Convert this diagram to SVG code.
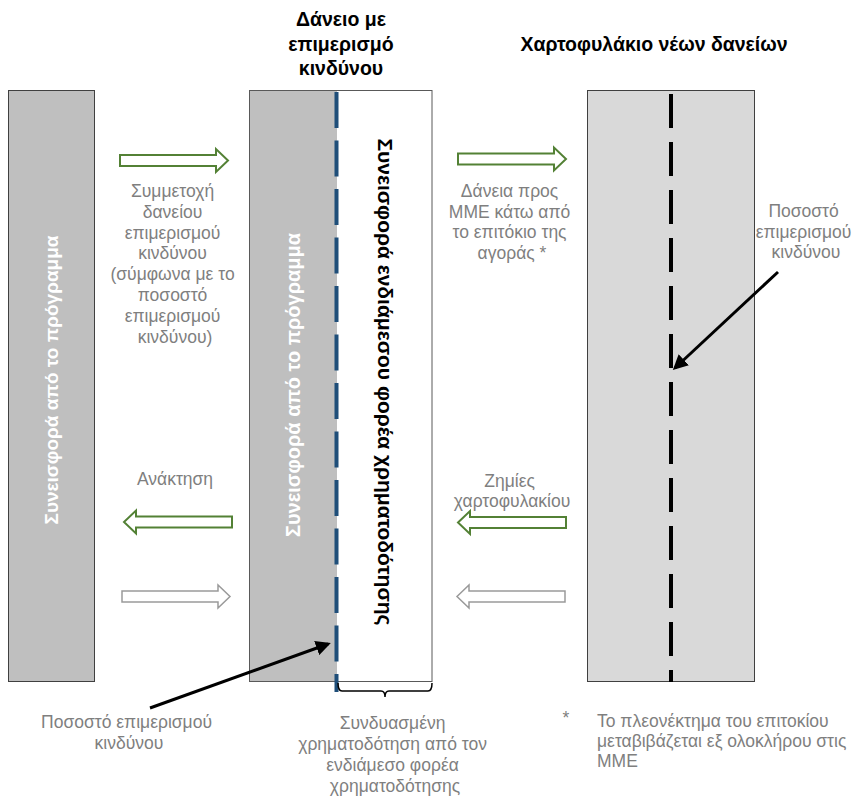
<svg xmlns="http://www.w3.org/2000/svg" width="867" height="796" viewBox="0 0 867 796">
<style>
.bar{stroke:#404040;stroke-width:1}
.vt{font-family:"Liberation Sans",Arial,sans-serif;font-weight:bold;font-size:19px;text-anchor:middle}
.ttl{font-family:"Liberation Sans",Arial,sans-serif;font-weight:bold;font-size:19.5px;text-anchor:middle;fill:#000}
.lbl{font-family:"Liberation Sans",Arial,sans-serif;font-size:17.5px;text-anchor:middle;fill:#7f7f7f}
.lft{text-anchor:start}
.ga{fill:#fff;stroke:#538135;stroke-width:2}
.gr{fill:#fff;stroke:#9a9a9a;stroke-width:1.5}
.pt{stroke:#000;stroke-width:3;fill:none;marker-end:url(#ah)}
</style>
<defs>
<path id="blk" d="M0,-5.5 H96 V-11.5 L108,0 L96,11.5 V5.5 H0 Z"/>
<marker id="ah" viewBox="0 0 10 10" refX="8" refY="5" markerWidth="5" markerHeight="5" orient="auto" markerUnits="strokeWidth">
<path d="M0,0 L10,5 L0,10 Z" fill="#000"/>
</marker>
</defs>
<rect width="867" height="796" fill="#fff"/>

<g id="titles">
<text class="ttl" x="341" y="26">Δάνειο με</text>
<text class="ttl" x="341" y="51">επιμερισμό</text>
<text class="ttl" x="341" y="75">κινδύνου</text>
<text class="ttl" x="654" y="51">Χαρτοφυλάκιο νέων δανείων</text>
</g>

<g id="programme-bar">
<rect class="bar" x="8.5" y="90.5" width="86" height="591" fill="#bfbfbf"/>
<text class="vt" fill="#fff" transform="translate(58,380) rotate(-90)">Συνεισφορά από το πρόγραμμα</text>
</g>

<g id="risk-sharing-loan">
<rect x="249.5" y="90.5" width="87.5" height="591" fill="#bfbfbf"/>
<rect x="337" y="90.5" width="95" height="591" fill="#fff"/>
<rect x="249.5" y="90.5" width="182.5" height="591" fill="none" stroke="#595959" stroke-width="1"/>
<text class="vt" fill="#fff" style="font-size:20px" transform="translate(300,385) rotate(-90)">Συνεισφορά από το πρόγραμμα</text>
<text class="vt" fill="#000" style="font-size:21px" transform="translate(378,382) rotate(90)">Συνεισφορά ενδιάμεσου φορέα χρηματοδότησης</text>
<line x1="336.5" y1="92" x2="336.5" y2="692" stroke="#1f4e79" stroke-width="4" stroke-dasharray="36 12.5"/>
<path d="M338,683 Q338,691 342,691 H381 Q385,691 385,697 Q385,691 389,691 H428 Q432,691 432,683" fill="none" stroke="#000" stroke-width="1.5"/>
</g>

<g id="portfolio">
<rect class="bar" x="587.5" y="90.5" width="167" height="591" fill="#d9d9d9"/>
<line x1="671" y1="94" x2="671" y2="682" stroke="#000" stroke-width="4" stroke-dasharray="34 14"/>
</g>

<g id="connectors">
<use href="#blk" class="ga" transform="translate(120,160.5)"/>
<use href="#blk" class="ga" transform="translate(458,159)"/>
<use href="#blk" class="ga" transform="translate(232,522) scale(-1,1)"/>
<use href="#blk" class="gr" transform="translate(122,596.5)"/>
<use href="#blk" class="ga" transform="translate(566,522.5) scale(-1,1)"/>
<use href="#blk" class="gr" transform="translate(565,596.5) scale(-1,1)"/>
<line class="pt" x1="150" y1="708" x2="328" y2="644"/>
<line class="pt" x1="778" y1="272" x2="675" y2="368"/>
</g>

<g id="labels">
<text class="lbl">
<tspan x="175" y="197">Συμμετοχή</tspan>
<tspan x="175" y="217.8">δανείου</tspan>
<tspan x="175" y="238.6">επιμερισμού</tspan>
<tspan x="175" y="259.4">κινδύνου</tspan>
<tspan x="175" y="280.2">(σύμφωνα με το</tspan>
<tspan x="175" y="301">ποσοστό</tspan>
<tspan x="175" y="321.8">επιμερισμού</tspan>
<tspan x="175" y="342.6">κινδύνου)</tspan>
</text>
<text class="lbl">
<tspan x="512" y="197">Δάνεια προς</tspan>
<tspan x="512" y="217.5">ΜΜΕ κάτω από</tspan>
<tspan x="512" y="238">το επιτόκιο της</tspan>
<tspan x="512" y="258.5">αγοράς *</tspan>
</text>
<text class="lbl">
<tspan x="806" y="217">Ποσοστό</tspan>
<tspan x="806" y="237.5">επιμερισμού</tspan>
<tspan x="806" y="258">κινδύνου</tspan>
</text>
<text class="lbl" x="175" y="485">Ανάκτηση</text>
<text class="lbl">
<tspan x="512" y="487">Ζημίες</tspan>
<tspan x="512" y="507">χαρτοφυλακίου</tspan>
</text>
<text class="lbl">
<tspan x="129" y="728">Ποσοστό επιμερισμού</tspan>
<tspan x="129" y="748.5">κινδύνου</tspan>
</text>
<text class="lbl">
<tspan x="395" y="729">Συνδυασμένη</tspan>
<tspan x="395" y="750">χρηματοδότηση από τον</tspan>
<tspan x="395" y="771">ενδιάμεσο φορέα</tspan>
<tspan x="395" y="792">χρηματοδότησης</tspan>
</text>
<text class="lbl" x="566" y="724">*</text>
<text class="lbl lft">
<tspan x="597" y="727">Το πλεονέκτημα του επιτοκίου</tspan>
<tspan x="597" y="747">μεταβιβάζεται εξ ολοκλήρου στις</tspan>
<tspan x="597" y="767">ΜΜΕ</tspan>
</text>
</g>
</svg>
